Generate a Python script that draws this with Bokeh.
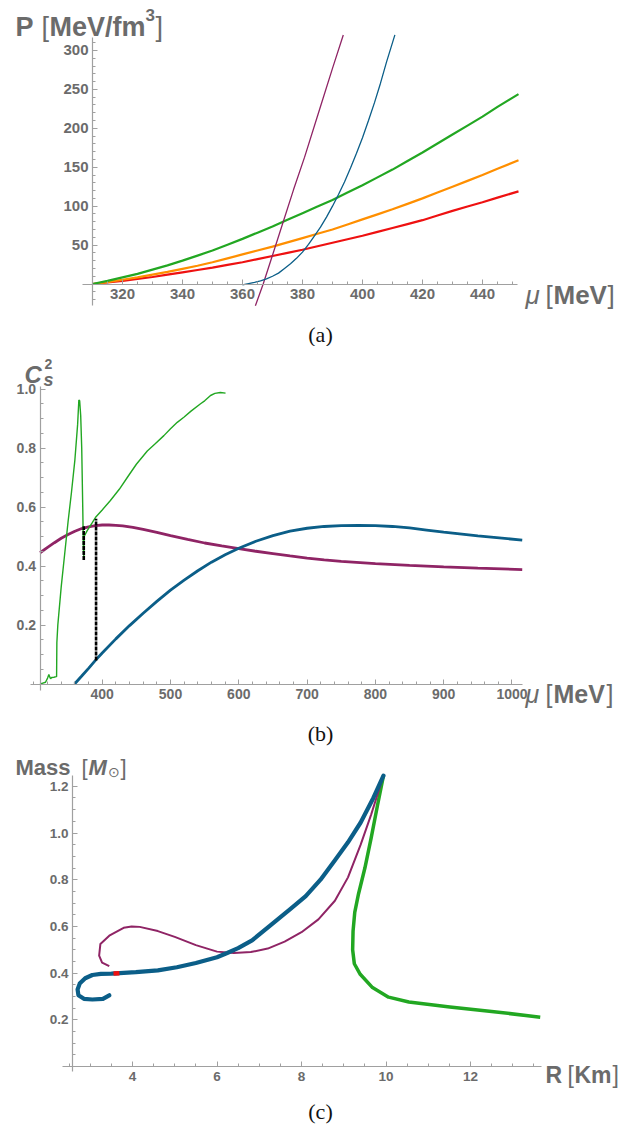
import numpy as np
from bokeh.plotting import figure
from bokeh.models import Label, FixedTicker, Range1d, NumeralTickFormatter
from bokeh.layouts import column
from bokeh.embed import file_html
from bokeh.resources import INLINE

# ---------------- data: panel (a)  P(mu) ----------------
mu_a = [310, 315, 320, 325, 330, 335, 340, 345, 350, 355, 360, 365, 370, 375, 380, 385, 390, 395,
        400, 405, 410, 415, 420, 425, 430, 435, 440, 445, 452]
P_green_a = [0, 4, 8.5, 13, 18.5, 24, 30, 36.5, 43, 50.5, 58, 66, 74, 82.5, 91, 99.5, 108, 117.5,
             127, 137, 147, 158, 169, 180.5, 192, 203.5, 215, 227.5, 244]
P_orange_a = [0, 2.5, 5.5, 8.5, 12, 15.5, 19.5, 23.5, 28, 33, 38, 43, 48, 53.5, 59, 64.5, 70, 76.5,
              83, 89.5, 96, 103, 110, 117.5, 125, 132.5, 140, 148, 159]
P_red_a = [0, 2, 4, 6.5, 9, 12, 15, 18, 21, 24.5, 28, 32, 36, 40, 44, 48.5, 53, 57.5,
           62, 67, 72, 77, 82, 88, 94, 99.5, 105, 111, 119]
mu_purple_a = [364.3, 366.9, 370, 373.5, 377, 380.7, 386, 390, 393.6]
P_purple_a = [-28, 0, 37, 79, 121, 163, 228, 277, 320]
mu_blue_a = [360, 362, 364, 366, 368, 370, 372, 374, 376, 378, 380, 382, 384, 386, 388, 390, 392,
             394, 396, 398, 400, 402, 404, 406, 408, 410.8]
P_blue_a = [-1, 0.5, 2, 4, 6.5, 10, 14, 20, 26, 33, 41, 51, 62, 73, 86, 100, 115,
            131, 149, 168, 188, 210, 233, 258, 285, 320]
xticks_a = [320, 340, 360, 380, 400, 420, 440]
yticks_a = [50, 100, 150, 200, 250, 300]

# ---------------- data: panel (b)  cs^2(mu) ----------------
mu_purple_b = [309, 320, 330, 340, 350, 360, 370, 380, 390, 400, 410, 420, 430, 445, 460, 480, 500,
               525, 550, 575, 600, 625, 650, 675, 700, 725, 750, 800, 850, 900, 950, 1015]
cs_purple_b = [0.445, 0.463, 0.479, 0.494, 0.507, 0.518, 0.527, 0.533, 0.537, 0.539, 0.539, 0.538,
               0.536, 0.531, 0.524, 0.514, 0.503, 0.49, 0.478, 0.468, 0.459, 0.45, 0.442, 0.434,
               0.427, 0.421, 0.416, 0.408, 0.402, 0.397, 0.393, 0.388]
mu_blue_b = [359.5, 370, 380, 390, 400, 420, 440, 460, 480, 500, 520, 540, 560, 580, 600, 625, 650,
             675, 700, 725, 750, 775, 800, 825, 850, 875, 900, 950, 1015]
cs_blue_b = [0.0, 0.027, 0.053, 0.08, 0.105, 0.153, 0.198, 0.24, 0.28, 0.318, 0.352, 0.384, 0.413,
             0.438, 0.46, 0.484, 0.503, 0.518, 0.528, 0.534, 0.537, 0.538, 0.537, 0.534, 0.529,
             0.522, 0.515, 0.502, 0.488]
mu_green_b = [309, 313, 317, 320, 321.9, 323, 324.4, 326, 329.2, 332.7, 333.2, 333.6, 335, 340, 345, 350,
              355, 360, 364, 365.8, 367, 368.5, 370, 371.5, 372.5, 373.2, 373.5, 378, 385, 390.3, 400,
              412, 425, 436.7, 450, 466, 478, 490.3, 500, 509.9, 520, 530, 544, 550, 558.6, 565, 573, 580.6]
cs_green_b = [0.0, 0.003, 0.006, 0.02, 0.032, 0.025, 0.018, 0.022, 0.023, 0.025, 0.025, 0.14, 0.2, 0.33,
              0.44, 0.55, 0.65, 0.76, 0.88, 0.963, 0.96, 0.91, 0.8, 0.6, 0.45, 0.43, 0.5, 0.52, 0.545,
              0.565, 0.59, 0.622, 0.66, 0.70, 0.745, 0.79, 0.815, 0.842, 0.865, 0.887, 0.905, 0.925,
              0.95, 0.96, 0.978, 0.985, 0.988, 0.986]
bar_mu_b = [373, 391]
bar_lo_b = [0.42, 0.08]
bar_hi_b = [0.535, 0.56]
xticks_b = [400, 500, 600, 700, 800, 900, 1000]
yticks_b = [0.2, 0.4, 0.6, 0.8, 1.0]

# ---------------- data: panel (c)  M(R) ----------------
R_blue_c = [3.45, 3.3, 3.05, 2.85, 2.72, 2.70, 2.75, 2.88, 3.05, 3.25, 3.5, 4.08, 4.6, 5.05, 5.5, 6.0,
            6.24, 6.5, 6.83, 7.3, 7.74, 8.1, 8.45, 8.8, 9.1, 9.4, 9.7, 9.94]
M_blue_c = [0.305, 0.29, 0.287, 0.29, 0.305, 0.33, 0.355, 0.378, 0.392, 0.397, 0.398, 0.404, 0.412,
            0.425, 0.443, 0.468, 0.486, 0.507, 0.54, 0.61, 0.675, 0.73, 0.80, 0.885, 0.96, 1.045,
            1.15, 1.246]
R_purple_c = [3.45, 3.28, 3.21, 3.24, 3.45, 3.79, 3.98, 4.17, 4.6, 5.0, 5.5, 6.0, 6.4, 6.8, 7.2, 7.6,
              8.0, 8.4, 8.79, 9.1, 9.4, 9.65, 9.94]
M_purple_c = [0.43, 0.445, 0.475, 0.525, 0.56, 0.594, 0.60, 0.598, 0.58, 0.555, 0.52, 0.492, 0.486,
              0.49, 0.505, 0.535, 0.575, 0.63, 0.71, 0.81, 0.95, 1.08, 1.246]
R_green_c = [9.94, 9.8, 9.65, 9.5, 9.35, 9.26, 9.22, 9.21, 9.25, 9.39, 9.68, 10.06, 10.54, 11.51,
             12.5, 13.65]
M_green_c = [1.246, 1.12, 0.98, 0.85, 0.74, 0.66, 0.58, 0.5, 0.44, 0.395, 0.338, 0.297, 0.276, 0.255,
             0.236, 0.211]
R_red_c = [3.55, 3.69]
M_red_c = [0.398, 0.399]
xticks_c = [4, 6, 8, 10, 12]
yticks_c = [0.2, 0.4, 0.6, 0.8, 1.0, 1.2]

# ---------------- styles ----------------
GREEN = "#22a722"
ORANGE = "#ff8f00"
RED = "#ee1111"
PURPLE = "#8f2465"
BLUE = "#0b5e88"
AX = "#a0a0a0"
TXT = "#6b6b6b"
SANS = "Liberation Sans"
SERIF = "Liberation Serif"
W = 641


class Panel:
    """Plot area in page pixels (fl, fr, ft, fb) with data limits; figure covers page rows top..bottom."""

    def __init__(self, area, xlim, ylim, top, bottom):
        self.fl, self.fr, self.ft, self.fb = area
        self.xlim, self.ylim = xlim, ylim
        sx = (xlim[1] - xlim[0]) / (self.fr - self.fl)
        sy = (ylim[1] - ylim[0]) / (self.fb - self.ft)
        self.sx, self.sy = sx, sy
        xr = (xlim[0] - self.fl * sx, xlim[1] + (W - self.fr) * sx)
        yr = (ylim[0] - (bottom - self.fb) * sy, ylim[1] + (self.ft - top) * sy)
        p = figure(output_backend="svg", toolbar_location=None,
                   x_range=Range1d(*xr), y_range=Range1d(*yr),
                   frame_width=W, frame_height=bottom - top,
                   min_border_left=0, min_border_right=0, min_border_top=0, min_border_bottom=0)
        p.outline_line_color = None
        p.xgrid.visible = False
        p.ygrid.visible = False
        p.background_fill_color = "white"
        p.border_fill_color = "white"
        self.p = p

    def axes(self, xt, xminor, yt, yminor, xloc, yloc, fs, yfmt=None):
        p = self.p
        for ax, ticks, minor, loc, bounds in ((p.xaxis[0], xt, xminor, yloc, self.xlim),
                                              (p.yaxis[0], yt, yminor, xloc, self.ylim)):
            ax.ticker = FixedTicker(ticks=ticks, minor_ticks=minor)
            ax.fixed_location = loc
            ax.bounds = bounds
            ax.axis_line_color = AX
            ax.axis_line_width = 1.2
            ax.major_tick_line_color = AX
            ax.minor_tick_line_color = AX
            ax.major_tick_in = 5
            ax.major_tick_out = 0
            ax.minor_tick_in = 3
            ax.minor_tick_out = 0
            ax.major_label_text_font = SANS
            ax.major_label_text_font_style = "bold"
            ax.major_label_text_font_size = fs
            ax.major_label_text_color = TXT
        if yfmt:
            p.yaxis[0].formatter = NumeralTickFormatter(format=yfmt)
        p.xaxis[0].major_label_standoff = 5
        p.yaxis[0].major_label_standoff = 4

    def text(self, px, py, text, size, style="bold", font=SANS, color=TXT, align="left"):
        x = self.xlim[0] + (px - self.fl) * self.sx
        y = self.ylim[1] - (py - self.ft) * self.sy
        self.p.add_layout(Label(x=x, y=y, text=text, text_font=font, text_font_size=size,
                                text_font_style=style, text_color=color, text_align=align,
                                text_baseline="alphabetic"))


# ================= panel (a) =================
A = Panel((82, 517, 37, 305), (306.67, 451.67), (-27.6, 316.7), 0, 346)
A.axes(xticks_a, list(np.arange(310, 452, 5)), yticks_a, list(np.arange(-20, 316, 10)), 310, 0, "15px")
pa = A.p
pa.line(mu_a, P_red_a, line_color=RED, line_width=2.2)
pa.line(mu_a, P_orange_a, line_color=ORANGE, line_width=2.2)
pa.line(mu_a, P_green_a, line_color=GREEN, line_width=2.2)
pa.line(mu_purple_a, P_purple_a, line_color=PURPLE, line_width=1.3)
pa.line(mu_blue_a, P_blue_a, line_color=BLUE, line_width=1.3)
A.text(15, 26, "P", "27px")
A.text(41, 26, "[", "27px", style="normal")
A.text(49, 26, "MeV/fm", "27px")
A.text(145, 14, "3", "17px")
A.text(155, 26, "]", "27px", style="normal")
A.text(525, 294, "μ", "26px", style="italic")
A.text(545, 294, "[", "26px", style="normal")
A.text(553, 294, "MeV", "26px")
A.text(607, 294, "]", "26px", style="normal")
A.text(320, 334, "(a)", "22px", style="normal", font=SERIF, color="#111111", align="center")

# ================= panel (b) =================
B = Panel((30, 522, 386, 690), (295.0, 1015.4), (-0.022, 1.0085), 346, 748)
B.axes(xticks_b, list(np.arange(300, 1015, 20)), yticks_b, list(np.round(np.arange(0, 1.005, 0.05), 3)),
       309, 0, "14px", yfmt="0.0")
pb = B.p
pb.line(mu_purple_b, cs_purple_b, line_color=PURPLE, line_width=2.8)
pb.line(mu_blue_b, cs_blue_b, line_color=BLUE, line_width=2.8)
pb.line(mu_green_b, cs_green_b, line_color=GREEN, line_width=1.4)
pb.segment(x0=bar_mu_b, y0=bar_lo_b, x1=bar_mu_b, y1=bar_hi_b, line_color="black", line_width=2.6,
           line_dash="4 1")
B.text(24, 374, "C", "24px", style="bold italic")
B.text(44, 363, "2", "14px")
B.text(43, 379, "s", "18px", style="bold italic")
B.text(525, 693, "μ", "25px", style="italic")
B.text(545, 693, "[", "25px", style="normal")
B.text(553, 693, "MeV", "25px")
B.text(606, 693, "]", "25px", style="normal")
B.text(320, 733, "(b)", "22px", style="normal", font=SERIF, color="#111111", align="center")

# ================= panel (c) =================
C = Panel((62, 541, 775, 1071), (2.343, 13.68), (-0.0214, 1.2463), 748, 1125)
C.axes(xticks_c, list(np.arange(2.5, 13.7, 0.5)), yticks_c, list(np.round(np.arange(0, 1.245, 0.05), 3)),
       2.58, 0, "13.5px", yfmt="0.0")
pc = C.p
pc.line(R_green_c, M_green_c, line_color=GREEN, line_width=3.5, line_join="round")
pc.line(R_purple_c, M_purple_c, line_color=PURPLE, line_width=2.0, line_join="round")
pc.line(R_blue_c, M_blue_c, line_color=BLUE, line_width=4.2, line_join="round", line_cap="round")
pc.line(R_red_c, M_red_c, line_color=RED, line_width=4.5)
C.text(15, 767, "Mass", "22px")
C.text(81, 767, "[", "22px", style="normal")
C.text(88, 767, "M", "22px", style="bold italic")
C.text(107, 771, "⊙", "14px", style="normal")
C.text(120, 767, "]", "22px", style="normal")
C.text(545, 1074, "R", "23px")
C.text(567, 1074, "[", "23px", style="normal")
C.text(574, 1074, "Km", "23px")
C.text(612, 1074, "]", "23px", style="normal")
C.text(320, 1111, "(c)", "22px", style="normal", font=SERIF, color="#111111", align="center")

layout = column(pa, pb, pc, spacing=0)
open("out.html", "w").write(file_html(layout, INLINE))
